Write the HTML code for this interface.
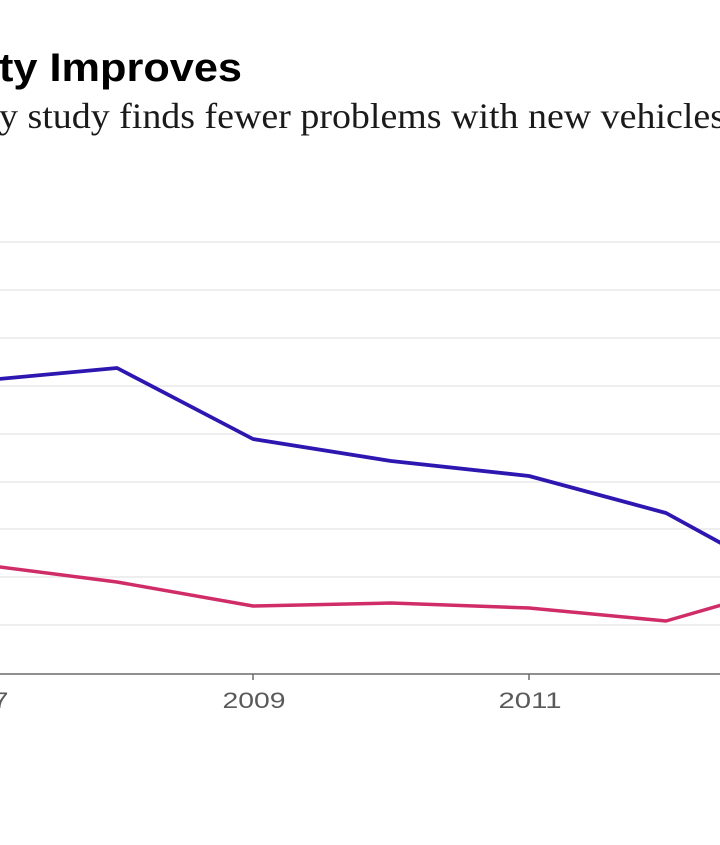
<!DOCTYPE html>
<html>
<head>
<meta charset="utf-8">
<style>
  html, body { margin: 0; padding: 0; background: #ffffff; }
  body { width: 720px; height: 845px; overflow: hidden; }
  svg { display: block; }
</style>
</head>
<body>
<svg width="720" height="845" viewBox="0 0 720 845" xmlns="http://www.w3.org/2000/svg">
  <rect x="0" y="0" width="720" height="845" fill="#ffffff"/>

  <!-- Title -->
  <text x="-1" y="81" font-family="Liberation Sans, Arial, sans-serif" font-weight="bold" font-size="40" fill="#000000" textLength="243" lengthAdjust="spacingAndGlyphs">ty Improves</text>
  <!-- Subtitle -->
  <text x="-1" y="128" font-family="Liberation Serif, Times New Roman, serif" font-size="36" fill="#1a1a1a" textLength="726" lengthAdjust="spacingAndGlyphs">y study finds fewer problems with new vehicles</text>

  <!-- Gridlines -->
  <g stroke="#e8e8e8" stroke-width="1.5">
    <line x1="0" y1="242" x2="720" y2="242"/>
    <line x1="0" y1="290" x2="720" y2="290"/>
    <line x1="0" y1="338" x2="720" y2="338"/>
    <line x1="0" y1="386" x2="720" y2="386"/>
    <line x1="0" y1="434" x2="720" y2="434"/>
    <line x1="0" y1="482" x2="720" y2="482"/>
    <line x1="0" y1="529" x2="720" y2="529"/>
    <line x1="0" y1="577" x2="720" y2="577"/>
    <line x1="0" y1="625" x2="720" y2="625"/>
  </g>

  <!-- Axis -->
  <line x1="0" y1="674" x2="720" y2="674" stroke="#6a6a6a" stroke-width="1.5"/>
  <g stroke="#6a6a6a" stroke-width="1.5">
    <line x1="253" y1="674" x2="253" y2="680"/>
    <line x1="529" y1="674" x2="529" y2="680"/>
  </g>

  <!-- Tick labels -->
  <g font-family="Liberation Sans, Arial, sans-serif" font-size="22" fill="#5a5a5a" text-anchor="middle">
    <text x="-23" y="708" textLength="63" lengthAdjust="spacingAndGlyphs">2007</text>
    <text x="254" y="708" textLength="63" lengthAdjust="spacingAndGlyphs">2009</text>
    <text x="530" y="708" textLength="63" lengthAdjust="spacingAndGlyphs">2011</text>
  </g>

  <!-- Series -->
  <polyline fill="none" stroke="#d02c68" stroke-width="3.5" stroke-linejoin="round"
    points="-23,564 117,582 253,606 391,603 529,608 666,621 805,581"/>
  <polyline fill="none" stroke="#2d17b0" stroke-width="3.8" stroke-linejoin="round"
    points="-23,381 117,368 253,439 391,461 529,476 666,513 805,589"/>
</svg>
</body>
</html>
